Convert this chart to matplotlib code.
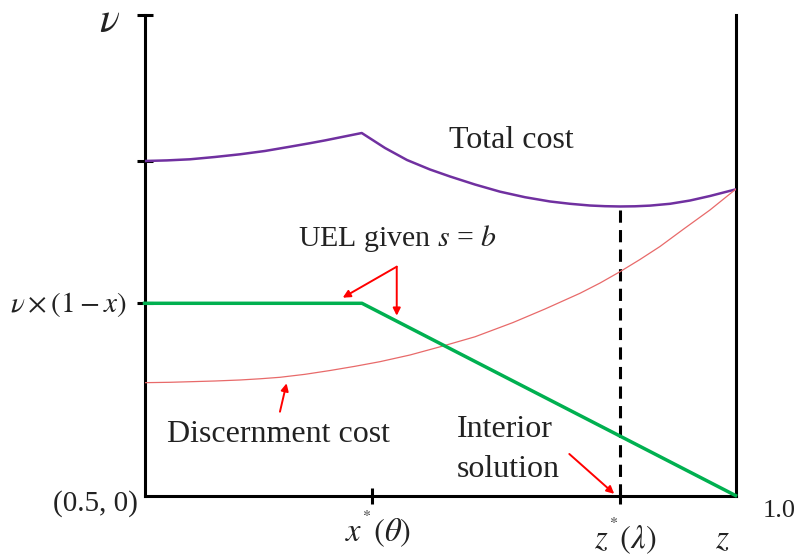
import matplotlib
matplotlib.use("Agg")
import matplotlib.pyplot as plt

plt.rcParams['mathtext.fontset'] = 'stix'
plt.rcParams['font.family'] = ['Liberation Serif', 'DejaVu Serif']

# ---- data ----
uel_x = [0.5, 0.684, 1.0]
uel_y = [0.40, 0.40, 0.0]

disc_x = [0.5, 0.5216, 0.5385, 0.5596, 0.5808, 0.5977, 0.6146, 0.6358, 0.6569, 0.6781, 0.6992,
          0.7246, 0.7525, 0.7796, 0.8118, 0.8388, 0.8684, 0.8854, 0.9023, 0.9192, 0.9361,
          0.9556, 0.9784, 1.0]
disc_y = [0.2348, 0.2356, 0.2368, 0.2383, 0.2404, 0.2429, 0.2460, 0.2522, 0.2601, 0.2689, 0.2785,
          0.2924, 0.3111, 0.3303, 0.3600, 0.3881, 0.4208, 0.4422, 0.4658, 0.4912, 0.5182,
          0.5536, 0.5942, 0.637]

total_x = [0.5, 0.5190, 0.5385, 0.5596, 0.5808, 0.6019, 0.6231, 0.6400, 0.6527, 0.6838,
           0.7035, 0.7221, 0.7415, 0.7585, 0.7796, 0.8008, 0.8219, 0.8431, 0.8600, 0.8769,
           0.8896, 0.9023, 0.9150, 0.9277, 0.9446, 0.9615, 0.9784, 1.0]
total_y = [0.6961, 0.6974, 0.6997, 0.7045, 0.7101, 0.7170, 0.7259, 0.7332, 0.7390, 0.7544,
           0.7232, 0.6982, 0.6785, 0.6639, 0.6472, 0.6323, 0.6208, 0.6119, 0.6071, 0.6035,
           0.6021, 0.6015, 0.6019, 0.6033, 0.6071, 0.6139, 0.6233, 0.637]

x_star = 0.6927
z_star = 0.902
z_star_total = 0.6015
ytick_vals = [1.0, 0.6961, 0.40]

W, H = 801, 557
fig = plt.figure(figsize=(W / 100, H / 100), dpi=100)
ax = fig.add_axes([144.5 / W, (H - 495.5) / H, 591 / W, 480.5 / H])
ax.set_xlim(0.5, 1.0)
ax.set_ylim(0, 1.0)

for s in ['left', 'bottom', 'right']:
    ax.spines[s].set_linewidth(2.2)
    ax.spines[s].set_color('black')
ax.spines['top'].set_visible(False)

ax.set_xticks([x_star, z_star])
ax.set_yticks(ytick_vals)
ax.set_xticklabels([])
ax.set_yticklabels([])
ax.tick_params(axis='both', direction='inout', length=11.5, width=2.2, color='black')
ax.tick_params(axis='y', right=False)

# curves
ax.plot(total_x, total_y, color='#7030A0', lw=1.8, zorder=3)
ax.plot(disc_x, disc_y, color='#E86A6A', lw=0.9, zorder=3)
ax.plot(uel_x, uel_y, color='#00B050', lw=2.5, zorder=4, clip_on=False)
ax.plot([z_star, z_star], [0, z_star_total], color='black', lw=2.2,
        linestyle=(0, (4, 2.4)), zorder=2)

# arrows
ap = dict(arrowstyle='-|>', color='red', lw=1.4, mutation_scale=11, shrinkA=0, shrinkB=0)
apex = (0.7134, 0.4762)
ax.annotate('', xy=(0.6677, 0.4117), xytext=apex, arrowprops=ap, annotation_clip=False)
ax.annotate('', xy=(0.7134, 0.3742), xytext=apex, arrowprops=ap, annotation_clip=False)
ax.annotate('', xy=(0.6202, 0.2335), xytext=(0.6146, 0.1744), arrowprops=ap, annotation_clip=False)
ax.annotate('', xy=(0.8974, 0.0035), xytext=(0.8594, 0.0864), arrowprops=ap, annotation_clip=False)

# texts
tc = '#222222'
ax.text(0.7576, 0.7232, 'Total cost', fontsize=23, color=tc, ha='left', va='baseline')
ax.text(0.6299, 0.5199, r'UEL given $s$ = $b$', fontsize=21.5, color=tc, ha='left', va='baseline')
ax.text(0.5188, 0.112, 'Discernment cost', fontsize=23, color=tc, ha='left', va='baseline')
ax.text(0.7641, 0.1224, 'Interior', fontsize=23, color=tc, ha='left', va='baseline')
ax.text(0.7641, 0.0391, 'solution', fontsize=23, color=tc, ha='left', va='baseline')

ax.text(0.4945, -0.0177, '(0.5, 0)', fontsize=21, color=tc, ha='right', va='center', clip_on=False)
ax.text(0.4849, 0.3965, r'$\nu\times(1-x)$', fontsize=21, color=tc, ha='right', va='center')
ax.text(0.4708, 0.9865, r'$\nu$', fontsize=30, color=tc, ha='center', va='center')
ax.text(1.0233, -0.0441, '1.0', fontsize=19, color=tc, ha='left', va='baseline')
ax.text(0.6975, -0.096, r'$x^{^{*}}(\theta)$', fontsize=23.5, color=tc, ha='center', va='baseline')
ax.text(0.9069, -0.110, r'$z^{^{*}}(\lambda)$', fontsize=23.5, color=tc, ha='center', va='baseline')
ax.text(0.989, -0.110, r'$z$', fontsize=24, color=tc, ha='center', va='baseline')

fig.savefig('out.png', dpi=100)
